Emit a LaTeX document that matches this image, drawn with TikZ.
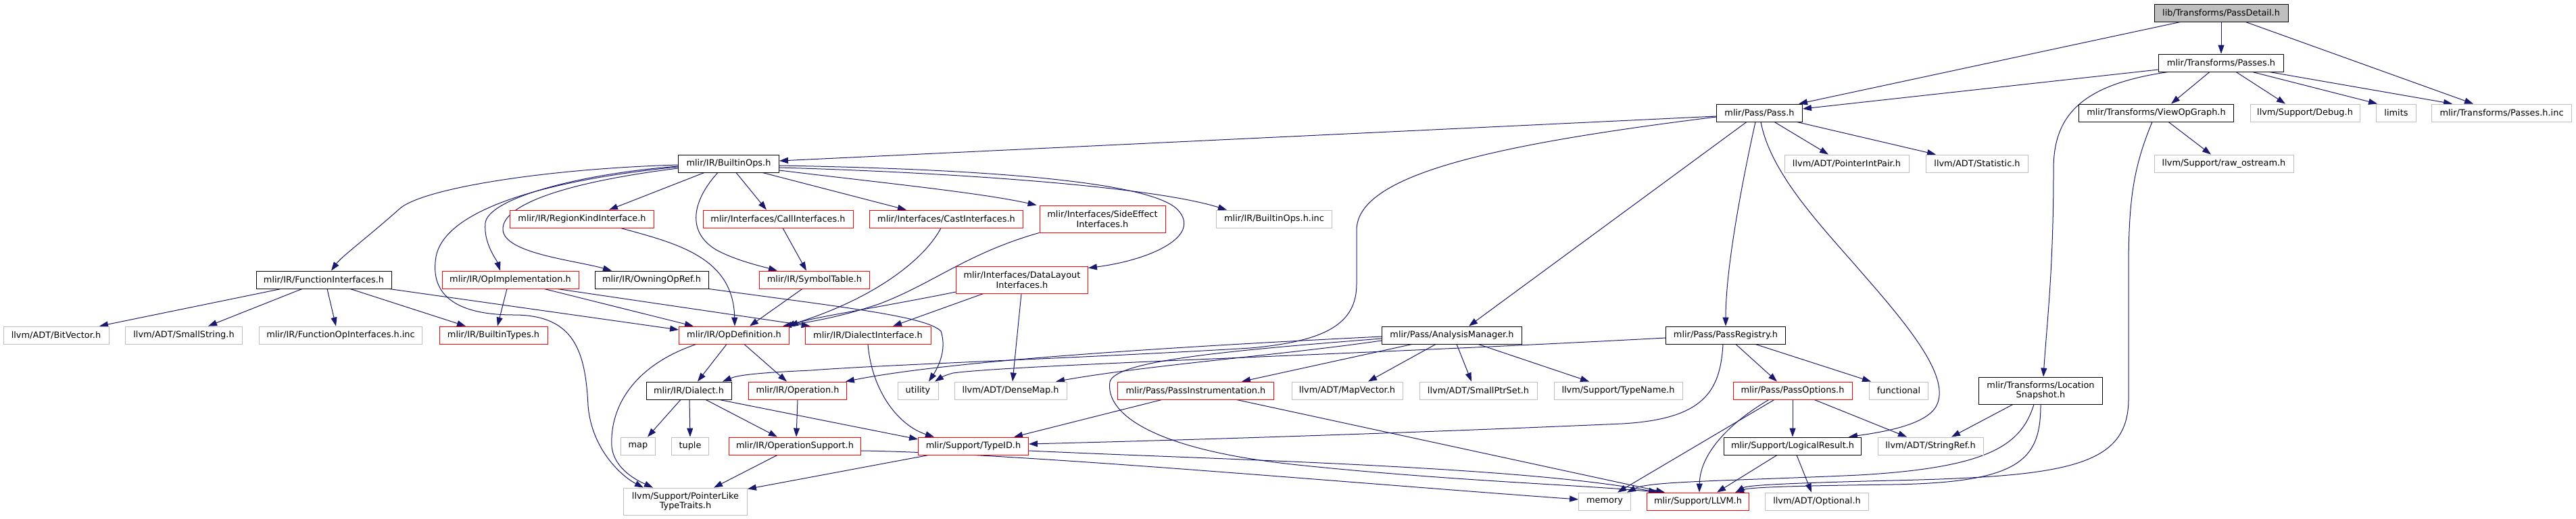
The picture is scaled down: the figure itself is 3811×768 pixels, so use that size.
\documentclass[tikz,border=0pt]{standalone}
\usepackage{fontspec}
\setmainfont{DejaVu Sans}
\usetikzlibrary{arrows.meta,calc}
\definecolor{edgeblue}{HTML}{191970}
\definecolor{greyxv}{HTML}{BFBFBF}
\newcommand\dxfont{\fontsize{12.9pt}{14.5pt}\selectfont}
\pgfdeclarelayer{bg}
\pgfdeclarelayer{edges}
\pgfsetlayers{bg,edges,main}
\tikzset{
  base/.style={draw, line width=0.85pt, inner sep=0pt, minimum height=26pt, font=\dxfont, align=center, fill=white},
  nblack/.style={base, draw=black},
  ngray/.style={base, draw=greyxv},
  nred/.style={base, draw=red},
  nroot/.style={base, draw=black, fill=greyxv},
  twoline/.style={minimum height=40pt},
  e/.style={draw=edgeblue, line width=1pt, -{Triangle[length=13pt,width=9pt]}},
}
\begin{document}
\begin{tikzpicture}[x=1pt,y=-1pt]
\begin{pgfonlayer}{bg}
\fill[white] (0,0) rectangle (3811,768);
\end{pgfonlayer}
\useasboundingbox (0,0) rectangle (3811,768);
% ---- nodes ----
\node[nroot, minimum width=198pt] (PD) at (3286,19) {lib/Transforms/PassDetail.h};
\node[nblack, minimum width=185pt] (PS) at (3286,93) {mlir/Transforms/Passes.h};
\node[nblack, minimum width=127pt] (P) at (2603,167) {mlir/Pass/Pass.h};
\node[nblack, minimum width=229pt] (VG) at (3190,167) {mlir/Transforms/ViewOpGraph.h};
\node[ngray, minimum width=162pt] (DBG) at (3410,167) {llvm/Support/Debug.h};
\node[ngray, minimum width=59pt] (LIM) at (3545,167) {limits};
\node[ngray, minimum width=207pt] (INC) at (3701,167) {mlir/Transforms/Passes.h.inc};
\node[nblack, minimum width=149pt] (BO) at (1078,242) {mlir/IR/BuiltinOps.h};
\node[ngray, minimum width=184pt] (PIP) at (2732,242) {llvm/ADT/PointerIntPair.h};
\node[ngray, minimum width=151pt] (STAT) at (2925,242) {llvm/ADT/Statistic.h};
\node[ngray, minimum width=206pt] (RAW) at (3290,242) {llvm/Support/raw\_ostream.h};
\node[nred, minimum width=213pt] (RK) at (861,324) {mlir/IR/RegionKindInterface.h};
\node[nred, minimum width=222pt] (CALL) at (1151,324) {mlir/Interfaces/CallInterfaces.h};
\node[nred, minimum width=227pt] (CAST) at (1400,324) {mlir/Interfaces/CastInterfaces.h};
\node[nred, twoline, minimum width=186pt] (SE) at (1631,324) {mlir/Interfaces/SideEffect\\Interfaces.h};
\node[ngray, minimum width=171pt] (BOINC) at (1885,324) {mlir/IR/BuiltinOps.h.inc};
\node[nblack, minimum width=200pt] (FI) at (479,414) {mlir/IR/FunctionInterfaces.h};
\node[nred, minimum width=202pt] (OI) at (755,414) {mlir/IR/OpImplementation.h};
\node[nblack, minimum width=168pt] (OWN) at (964,414) {mlir/IR/OwningOpRef.h};
\node[nred, minimum width=163pt] (ST) at (1205,414) {mlir/IR/SymbolTable.h};
\node[nred, twoline, minimum width=195pt] (DL) at (1512,414) {mlir/Interfaces/DataLayout\\Interfaces.h};
\node[ngray, minimum width=156pt] (BV) at (83,496) {llvm/ADT/BitVector.h};
\node[ngray, minimum width=173pt] (SS) at (272,496) {llvm/ADT/SmallString.h};
\node[ngray, minimum width=241pt] (FOI) at (504,496) {mlir/IR/FunctionOpInterfaces.h.inc};
\node[nred, minimum width=160pt] (BT) at (730,496) {mlir/IR/BuiltinTypes.h};
\node[nred, minimum width=163pt] (OD) at (1086,496) {mlir/IR/OpDefinition.h};
\node[nred, minimum width=186pt] (DI) at (1284,496) {mlir/IR/DialectInterface.h};
\node[nblack, minimum width=207pt] (AM) at (2148,496) {mlir/Pass/AnalysisManager.h};
\node[nblack, minimum width=177pt] (PR) at (2553,496) {mlir/Pass/PassRegistry.h};
\node[nblack, minimum width=126pt] (DIA) at (1019,578) {mlir/IR/Dialect.h};
\node[nred, minimum width=145pt] (OP) at (1180,578) {mlir/IR/Operation.h};
\node[ngray, minimum width=60pt] (UT) at (1358,578) {utility};
\node[ngray, minimum width=166pt] (DM) at (1495,578) {llvm/ADT/DenseMap.h};
\node[nred, minimum width=231pt] (PI) at (1769,578) {mlir/Pass/PassInstrumentation.h};
\node[ngray, minimum width=164pt] (MV) at (1993,578) {llvm/ADT/MapVector.h};
\node[ngray, minimum width=174pt] (SPS) at (2187,578) {llvm/ADT/SmallPtrSet.h};
\node[ngray, minimum width=190pt] (TN) at (2394,578) {llvm/Support/TypeName.h};
\node[nred, minimum width=176pt] (PO) at (2652,578) {mlir/Pass/PassOptions.h};
\node[ngray, minimum width=87pt] (FUN) at (2809,578) {functional};
\node[nblack, twoline, minimum width=183pt] (LS) at (3019,578) {mlir/Transforms/Location\\Snapshot.h};
\node[ngray, minimum width=51pt] (MAP) at (944,660) {map};
\node[ngray, minimum width=55pt] (TUP) at (1021,660) {tuple};
\node[nred, minimum width=195pt] (OS) at (1176,660) {mlir/IR/OperationSupport.h};
\node[nred, minimum width=163pt] (TID) at (1440,660) {mlir/Support/TypeID.h};
\node[nblack, minimum width=203pt] (LR) at (2652,660) {mlir/Support/LogicalResult.h};
\node[ngray, minimum width=156pt] (SR) at (2856,660) {llvm/ADT/StringRef.h};
\node[ngray, twoline, minimum width=183pt] (PLT) at (1014,742) {llvm/Support/PointerLike\\TypeTraits.h};
\node[ngray, minimum width=77pt] (MEM) at (2374,742) {memory};
\node[nred, minimum width=151pt] (LLVM) at (2512,742) {mlir/Support/LLVM.h};
\node[ngray, minimum width=153pt] (OPT) at (2688,742) {llvm/ADT/Optional.h};
% ---- edges ----
\begin{pgfonlayer}{edges}
% PassDetail
\draw[e] ($(PD.south)+(-60,0)$) -- ($(P.north)+(58,0)$);
\draw[e] (PD.south) -- (PS.north);
\draw[e] ($(PD.south)+(36,0)$) -- ($(INC.north)+(-42,0)$);
% Passes.h
\draw[e] ($(PS.west)+(0,10)$) -- ($(P.east)+(0,-6)$);
\draw[e] ($(PS.south)+(-17,0)$) -- ($(VG.north)+(22,0)$);
\draw[e] ($(PS.south)+(22,0)$) -- ($(DBG.north)+(-29,0)$);
\draw[e] ($(PS.south)+(46,0)$) -- ($(LIM.north west)+(2,0)$);
\draw[e] ($(PS.south)+(71,0)$) -- ($(INC.north)+(-73,0)$);
\draw[e] ($(PS.south)+(-78,0)$) .. controls (3080,125) and (3038,170) .. (3038,250) .. controls (3038,400) and (3028,480) .. ($(LS.north)+(4,0)$);
% ViewOpGraph
\draw[e] ($(VG.south)+(18,0)$) -- ($(RAW.north)+(-19,0)$);
\draw[e] ($(VG.south)+(-6,0)$) .. controls (3155,250) and (3149,300) .. (3149,400) -- (3149,590) .. controls (3149,690) and (3060,705) .. (2800,711) .. controls (2640,715) and (2585,718) .. ($(LLVM.north)+(56,0)$);
% Pass.h
\draw[e] ($(P.west)+(0,5)$) -- ($(BO.east)+(0,-4)$);
\draw[e] ($(P.west)+(0,6)$) .. controls (2200,215) and (2008,260) .. (2007,340) -- (2007,420) .. controls (2007,480) and (1960,505) .. (1850,515) .. controls (1600,530) and (1300,540) .. (1200,548) .. controls (1110,552) and (1090,556) .. ($(DIA.north)+(50,0)$);
\draw[e] ($(P.south)+(-19,0)$) -- ($(AM.north)+(25,0)$);
\draw[e] ($(P.south)+(-6,0)$) .. controls (2575,280) and (2553,400) .. (PR.north);
\draw[e] ($(P.south)+(2,0)$) .. controls (2620,260) and (2700,340) .. (2760,410) .. controls (2830,490) and (2885,560) .. (2865,600) .. controls (2850,630) and (2780,640) .. ($(LR.north)+(83,0)$);
\draw[e] ($(P.south)+(22,0)$) -- ($(PIP.north)+(-27,0)$);
\draw[e] ($(P.south)+(55,0)$) -- ($(STAT.north)+(-61,0)$);
% AnalysisManager
\draw[e] ($(AM.south)+(-24,0)$) -- ($(MV.north)+(31,0)$);
\draw[e] ($(AM.south)+(7,0)$) -- ($(SPS.north)+(-10,0)$);
\draw[e] ($(AM.south)+(39,0)$) -- ($(TN.north)+(-43,0)$);
\draw[e] ($(AM.south)+(-59,0)$) -- ($(PI.north)+(68,0)$);
\draw[e] ($(AM.west)+(0,8)$) .. controls (1900,525) and (1700,540) .. ($(DM.north)+(67,0)$);
\draw[e] ($(AM.west)+(0,2)$) .. controls (1700,515) and (1400,535) .. ($(OP.north east)+(-2,0)$);
\draw[e] ($(AM.west)+(0,5)$) .. controls (1800,520) and (1650,535) .. (1642,565) .. controls (1635,610) and (1700,665) .. (1920,688) .. controls (2150,712) and (2350,718) .. ($(LLVM.north)+(-58,0)$);
% PassRegistry
\draw[e] ($(PR.south)+(15,0)$) -- ($(PO.north)+(-23,0)$);
\draw[e] ($(PR.south)+(44,0)$) -- ($(FUN.north)+(-41,0)$);
\draw[e] ($(PR.south)+(-4,0)$) .. controls (2545,580) and (2520,620) .. (2400,627) .. controls (2100,640) and (1800,650) .. ($(TID.east)+(0,-3)$);
\draw[e] ($(PR.west)+(0,4)$) .. controls (2000,525) and (1500,540) .. (1410,552) .. controls (1395,556) and (1390,560) .. ($(UT.north)+(25,0)$);
% PassOptions
\draw[e] (PO.south) -- (LR.north);
\draw[e] ($(PO.south)+(32,0)$) -- ($(SR.north)+(-35,0)$);
\draw[e] ($(PO.south)+(-27,0)$) -- ($(MEM.north)+(19,0)$);
\draw[e] ($(PO.south)+(-35,0)$) .. controls (2560,625) and (2515,670) .. ($(LLVM.north)+(2,0)$);
% LogicalResult
\draw[e] ($(LR.south)+(-23,0)$) -- ($(LLVM.north)+(28,0)$);
\draw[e] ($(LR.south)+(6,0)$) -- ($(OPT.north)+(-8,0)$);
% LocationSnapshot
\draw[e] ($(LS.south)+(-41,0)$) -- ($(SR.north)+(31,0)$);
\draw[e] ($(LS.south)+(-10,0)$) .. controls (2990,660) and (2940,692) .. (2750,703) .. controls (2550,712) and (2440,712) .. ($(MEM.north)+(33,0)$);
\draw[e] (LS.south) .. controls (3019,680) and (2990,714) .. (2800,717) .. controls (2650,719) and (2590,721) .. ($(LLVM.north)+(55,0)$);
% PassInstrumentation
\draw[e] ($(PI.south)+(-50,0)$) -- ($(TID.north)+(60,0)$);
\draw[e] ($(PI.south)+(60,0)$) -- ($(LLVM.north)+(-49,0)$);
% TypeID
\draw[e] ($(TID.east)+(0,7)$) .. controls (1800,680) and (2250,690) .. ($(LLVM.north)+(-60,0)$);
\draw[e] ($(TID.south)+(-66,0)$) -- ($(PLT.north east)+(0,2)$);
% Dialect
\draw[e] ($(DIA.south)+(-12,0)$) -- ($(MAP.north)+(14,0)$);
\draw[e] ($(DIA.south)+(1,0)$) -- (TUP.north);
\draw[e] ($(DIA.south)+(25,0)$) -- ($(OS.north)+(-26,0)$);
\draw[e] ($(DIA.south)+(45,0)$) -- ($(TID.west)+(0,-10)$);
% Operation
\draw[e] (OP.south) -- ($(OS.north)+(2,0)$);
% OperationSupport
\draw[e] ($(OS.south)+(-26,0)$) -- ($(PLT.north)+(42,0)$);
\draw[e] ($(OS.east)+(0,7)$) .. controls (1500,670) and (2000,715) .. ($(MEM.west)+(0,-3)$);
% OpDefinition
\draw[e] ($(OD.south)+(-11,0)$) -- ($(DIA.north)+(13,0)$);
\draw[e] ($(OD.south)+(15,0)$) -- ($(OP.north)+(-16,0)$);
\draw[e] ($(OD.south)+(-56,0)$) .. controls (940,540) and (902,600) .. (905,660) .. controls (908,695) and (945,712) .. ($(PLT.north)+(-48,0)$);
% BuiltinOps
\draw[e] ($(BO.west)+(0,5)$) .. controls (850,262) and (660,300) .. (645,380) .. controls (635,440) and (680,466) .. (760,466) .. controls (850,466) and (866,520) .. (870,600) .. controls (875,665) and (920,705) .. ($(PLT.north)+(-62,0)$);
\draw[e] ($(BO.west)+(0,2)$) .. controls (800,250) and (620,280) .. (590,310) .. controls (545,350) and (505,380) .. ($(FI.north)+(11,0)$);
\draw[e] ($(BO.west)+(0,4)$) .. controls (850,258) and (722,295) .. (718,330) .. controls (715,360) and (735,385) .. ($(OI.north)+(-15,0)$);
\draw[e] ($(BO.west)+(0,7)$) .. controls (850,268) and (742,300) .. (744,340) .. controls (746,375) and (850,385) .. ($(OWN.north)+(-59,0)$);
\draw[e] ($(BO.south)+(-36,0)$) -- ($(RK.north)+(40,0)$);
\draw[e] ($(BO.south)+(-16,0)$) .. controls (1030,290) and (1010,340) .. (1060,370) .. controls (1090,386) and (1130,395) .. ($(ST.north)+(-55,0)$);
\draw[e] ($(BO.south)+(11,0)$) -- ($(CALL.north)+(-17,0)$);
\draw[e] ($(BO.south)+(50,0)$) -- ($(CAST.north)+(-59,0)$);
\draw[e] ($(BO.east)+(0,10)$) .. controls (1300,270) and (1450,285) .. ($(SE.north west)+(-4,0)$);
\draw[e] ($(BO.east)+(0,6)$) .. controls (1400,255) and (1700,275) .. ($(BOINC.north)+(-70,0)$);
\draw[e] ($(BO.east)+(0,3)$) .. controls (1450,250) and (1700,268) .. (1742,310) .. controls (1780,350) and (1700,385) .. ($(DL.north east)+(0,3)$);
% interfaces
\draw[e] ($(RK.south)+(57,0)$) .. controls (1000,360) and (1085,380) .. ($(OD.north)+(1,0)$);
\draw[e] ($(CALL.south)+(7,0)$) -- ($(ST.north)+(-12,0)$);
\draw[e] ($(CAST.south)+(-8,0)$) .. controls (1370,380) and (1300,440) .. ($(OD.north east)+(-5,0)$);
\draw[e] (SE.south west) .. controls (1430,375) and (1380,420) .. (1300,450) .. controls (1240,470) and (1200,476) .. ($(OD.north east)+(-10,0)$);
\draw[e] ($(DL.west)+(0,18)$) .. controls (1300,455) and (1200,470) .. (OD.north east);
\draw[e] ($(DL.south)+(-57,0)$) -- ($(DI.north)+(37,0)$);
\draw[e] ($(DL.south)+(-1,0)$) -- ($(DM.north)+(3,0)$);
\draw[e] ($(ST.south)+(-18,0)$) -- ($(OD.north)+(23,0)$);
% OpImplementation
\draw[e] ($(OI.south)+(-5,0)$) -- ($(BT.north)+(6,0)$);
\draw[e] ($(OI.south)+(50,0)$) -- ($(OD.north)+(-60,0)$);
\draw[e] ($(OI.south)+(69,0)$) -- ($(DI.north west)+(8,0)$);
% OwningOpRef
\draw[e] (OWN.south east) .. controls (1250,455) and (1370,468) .. (1392,490) .. controls (1402,520) and (1385,548) .. ($(UT.north)+(16,0)$);
% FunctionInterfaces
\draw[e] ($(FI.south)+(-63,0)$) -- ($(BV.north)+(64,0)$);
\draw[e] ($(FI.south)+(-32,0)$) -- ($(SS.north)+(36,0)$);
\draw[e] ($(FI.south)+(5,0)$) -- ($(FOI.north)+(-7,0)$);
\draw[e] ($(FI.south)+(39,0)$) -- ($(BT.north)+(-41,0)$);
\draw[e] ($(FI.south east)+(-4,0)$) -- ($(OD.west)+(0,-8)$);
% DialectInterface
\draw[e] (DI.south) .. controls (1290,580) and (1330,630) .. ($(TID.north)+(-58,0)$);
\end{pgfonlayer}
\end{tikzpicture}
\end{document}
